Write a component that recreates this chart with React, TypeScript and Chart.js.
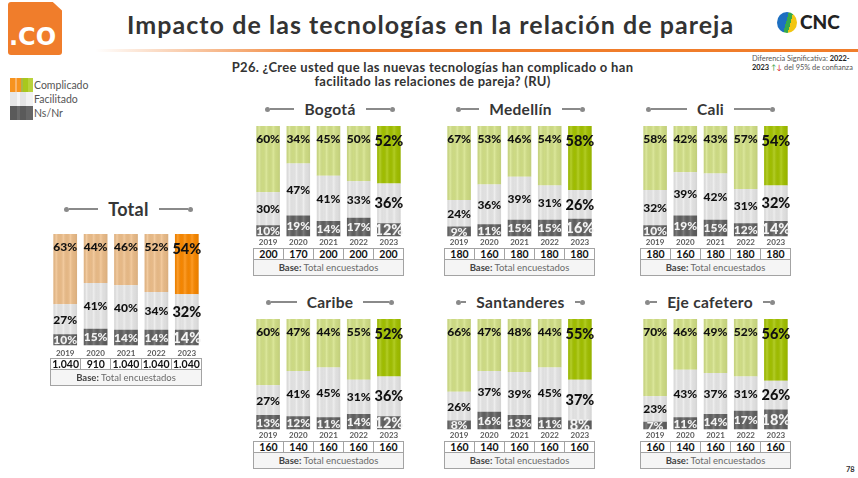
import React, { useEffect, useRef } from "react";
import { Chart, registerables } from "chart.js";

Chart.register(...registerables);

// ---------- DATA ----------
const years = ["2019", "2020", "2021", "2022", "2023"];

const totalComplicado = [63, 44, 46, 52, 54];
const totalFacilitado = [27, 41, 40, 34, 32];
const totalNsNr = [10, 15, 14, 14, 14];
const totalBase = ["1.040", "910", "1.040", "1.040", "1.040"];

const bogotaComplicado = [60, 34, 45, 50, 52];
const bogotaFacilitado = [30, 47, 41, 33, 36];
const bogotaNsNr = [10, 19, 14, 17, 12];
const bogotaBase = ["200", "170", "200", "200", "200"];

const medellinComplicado = [67, 53, 46, 54, 58];
const medellinFacilitado = [24, 36, 39, 31, 26];
const medellinNsNr = [9, 11, 15, 15, 16];
const medellinBase = ["180", "160", "180", "180", "180"];

const caliComplicado = [58, 42, 43, 57, 54];
const caliFacilitado = [32, 39, 42, 31, 32];
const caliNsNr = [10, 19, 15, 12, 14];
const caliBase = ["180", "160", "180", "180", "180"];

const caribeComplicado = [60, 47, 44, 55, 52];
const caribeFacilitado = [27, 41, 45, 31, 36];
const caribeNsNr = [13, 12, 11, 14, 12];
const caribeBase = ["160", "140", "160", "160", "160"];

const santanderesComplicado = [66, 47, 48, 44, 55];
const santanderesFacilitado = [26, 37, 39, 45, 37];
const santanderesNsNr = [8, 16, 13, 11, 8];
const santanderesBase = ["160", "140", "160", "160", "160"];

const ejeComplicado = [70, 46, 49, 52, 56];
const ejeFacilitado = [23, 43, 37, 31, 26];
const ejeNsNr = [7, 11, 14, 17, 18];
const ejeBase = ["160", "140", "160", "160", "160"];

// ---------- STYLE ----------
const ORANGE_LIGHT = "#F1C18C";
const ORANGE_STRONG = "#FF8B00";
const GREEN_LIGHT = "#D6E489";
const GREEN_STRONG = "#A6C500";
const GRAY_LIGHT = "#EBEBEB";
const GRAY_DARK = "#636363";
const FONT = "Lato, 'Noto Sans', sans-serif";

type PanelCfg = {
  title: string;
  comp: number[];
  fac: number[];
  ns: number[];
  base: string[];
  light: string;
  strong: string;
  left: number;
  width: number;
  barTop: number;
  canvasH: number;
  tickPad: number;
  tableTop: number;
  titleY: number;
  titleL: number;
  titleR: number;
  titleSize: number;
};

const TOP_ROW = { barTop: 126, canvasH: 122, tickPad: 1, tableTop: 248, titleY: 109 };
const BOT_ROW = { barTop: 319, canvasH: 122, tickPad: 1, tableTop: 441, titleY: 302 };

const panels: PanelCfg[] = [
  {
    title: "Total", comp: totalComplicado, fac: totalFacilitado, ns: totalNsNr, base: totalBase,
    light: ORANGE_LIGHT, strong: ORANGE_STRONG, left: 50, width: 152, barTop: 234, canvasH: 127,
    tickPad: 3, tableTop: 358, titleY: 209, titleL: 64, titleR: 193, titleSize: 18,
  },
  { title: "Bogotá", comp: bogotaComplicado, fac: bogotaFacilitado, ns: bogotaNsNr, base: bogotaBase,
    light: GREEN_LIGHT, strong: GREEN_STRONG, left: 253, width: 151, ...TOP_ROW, titleL: 265, titleR: 395, titleSize: 15.5 },
  { title: "Medellín", comp: medellinComplicado, fac: medellinFacilitado, ns: medellinNsNr, base: medellinBase,
    light: GREEN_LIGHT, strong: GREEN_STRONG, left: 444, width: 151, ...TOP_ROW, titleL: 456, titleR: 585, titleSize: 15.5 },
  { title: "Cali", comp: caliComplicado, fac: caliFacilitado, ns: caliNsNr, base: caliBase,
    light: GREEN_LIGHT, strong: GREEN_STRONG, left: 640, width: 151, ...TOP_ROW, titleL: 646, titleR: 775, titleSize: 15.5 },
  { title: "Caribe", comp: caribeComplicado, fac: caribeFacilitado, ns: caribeNsNr, base: caribeBase,
    light: GREEN_LIGHT, strong: GREEN_STRONG, left: 253, width: 151, ...BOT_ROW, titleL: 266, titleR: 394, titleSize: 15.5 },
  { title: "Santanderes", comp: santanderesComplicado, fac: santanderesFacilitado, ns: santanderesNsNr, base: santanderesBase,
    light: GREEN_LIGHT, strong: GREEN_STRONG, left: 444, width: 151, ...BOT_ROW, titleL: 456, titleR: 585, titleSize: 15.5 },
  { title: "Eje cafetero", comp: ejeComplicado, fac: ejeFacilitado, ns: ejeNsNr, base: ejeBase,
    light: GREEN_LIGHT, strong: GREEN_STRONG, left: 640, width: 151, ...BOT_ROW, titleL: 645, titleR: 775, titleSize: 15.5 },
];

// ---------- PLUGIN ----------
const stackLabels = {
  id: "stackLabels",
  afterDatasetsDraw(chart: any) {
    const ctx = chart.ctx as CanvasRenderingContext2D;
    const n = chart.data.labels.length;
    const topMeta = chart.getDatasetMeta(2);
    const botMeta = chart.getDatasetMeta(0);
    ctx.save();
    // cylinder-like vertical stripes
    for (let i = 0; i < n; i++) {
      const t = topMeta.data[i].getProps(["x", "y", "width"], true);
      const b = botMeta.data[i].getProps(["base"], true);
      const x0 = t.x - t.width / 2;
      const g = ctx.createLinearGradient(x0, 0, x0 + t.width, 0);
      g.addColorStop(0, "rgba(0,0,0,0.07)");
      g.addColorStop(0.12, "rgba(255,255,255,0.18)");
      g.addColorStop(0.28, "rgba(0,0,0,0.04)");
      g.addColorStop(0.42, "rgba(255,255,255,0.16)");
      g.addColorStop(0.58, "rgba(0,0,0,0.05)");
      g.addColorStop(0.72, "rgba(255,255,255,0.14)");
      g.addColorStop(0.88, "rgba(0,0,0,0.06)");
      g.addColorStop(1, "rgba(0,0,0,0.1)");
      ctx.fillStyle = g;
      ctx.fillRect(x0, t.y, t.width, b.base - t.y);
    }
    // labels
    chart.data.datasets.forEach((ds: any, di: number) => {
      const meta = chart.getDatasetMeta(di);
      meta.data.forEach((el: any, i: number) => {
        const p = el.getProps(["x", "y", "base"], true);
        const big = i === n - 1;
        const size = big ? 14.5 : 12;
        ctx.font = `900 ${size}px ${FONT}`;
        ctx.textAlign = "center";
        ctx.textBaseline = "middle";
        const ty = di === 2 ? p.y + (big ? 15 : 13) : (p.y + p.base) / 2 + 0.5;
        ctx.fillStyle = di === 0 ? "#f3f3f3" : "#111111";
        ctx.fillText(`${ds.data[i]}%`, p.x, ty);
      });
    });
    ctx.restore();
  },
};

// ---------- COMPONENTS ----------
function PanelChart({ p }: { p: PanelCfg }) {
  const ref = useRef<HTMLCanvasElement>(null);
  useEffect(() => {
    if (!ref.current) return;
    const chart = new Chart(ref.current, {
      type: "bar",
      data: {
        labels: years,
        datasets: [
          { label: "Ns/Nr", data: p.ns, backgroundColor: GRAY_DARK },
          { label: "Facilitado", data: p.fac, backgroundColor: GRAY_LIGHT },
          {
            label: "Complicado",
            data: p.comp,
            backgroundColor: years.map((_, i) => (i === years.length - 1 ? p.strong : p.light)),
          },
        ],
      },
      options: {
        animation: false,
        responsive: false,
        maintainAspectRatio: false,
        devicePixelRatio: 1,
        layout: { padding: 0 },
        events: [],
        datasets: { bar: { barPercentage: 0.78, categoryPercentage: 1 } },
        plugins: { legend: { display: false }, tooltip: { enabled: false } },
        scales: {
          x: {
            stacked: true,
            grid: { display: false, drawTicks: false },
            border: { display: false },
            ticks: {
              padding: p.tickPad,
              color: "#5a5a5a",
              font: { family: FONT, size: 8, weight: "bold" },
              maxRotation: 0,
            },
          },
          y: { stacked: true, display: false, min: 0, max: 100 },
        },
      } as any,
      plugins: [stackLabels],
    });
    return () => chart.destroy();
  }, [p]);
  return (
    <canvas
      ref={ref}
      width={p.width}
      height={p.canvasH}
      style={{ position: "absolute", left: p.left, top: p.barTop, width: p.width, height: p.canvasH }}
    />
  );
}

function PanelTitle({ p }: { p: PanelCfg }) {
  const h = 22;
  return (
    <div
      style={{
        position: "absolute", left: p.titleL, top: p.titleY - h / 2, width: p.titleR - p.titleL, height: h,
        display: "flex", alignItems: "center",
      }}
    >
      <div style={{ width: 5, height: 5, borderRadius: 3, background: "#8a8a8a" }} />
      <div style={{ flex: 1, height: 1.5, background: "#8a8a8a" }} />
      <div style={{ margin: "0 10px", fontFamily: FONT, fontWeight: 700, fontSize: p.titleSize, color: "#363636", lineHeight: `${h}px`, whiteSpace: "nowrap", letterSpacing: 0.3 }}>
        {p.title}
      </div>
      <div style={{ flex: 1, height: 1.5, background: "#8a8a8a" }} />
      <div style={{ width: 5, height: 5, borderRadius: 3, background: "#8a8a8a" }} />
    </div>
  );
}

function BaseTable({ p }: { p: PanelCfg }) {
  const bc = "1.5px solid #a3a3a3";
  return (
    <div style={{ position: "absolute", left: p.left, top: p.tableTop, width: p.width, border: bc, boxSizing: "border-box", fontFamily: FONT }}>
      <div style={{ display: "flex", height: 10 }}>
        {p.base.map((b, i) => (
          <div key={i} style={{ flex: 1, borderLeft: i ? bc : "none", textAlign: "center", fontWeight: 700, fontSize: 10.5, lineHeight: "10px", color: "#111" }}>
            {b}
          </div>
        ))}
      </div>
      <div style={{ borderTop: bc, height: 15, background: "#f5f5f5", textAlign: "center", fontSize: 9.5, lineHeight: "15px", color: "#6a6a6a" }}>
        <span style={{ fontWeight: 700, color: "#444" }}>Base:</span> Total encuestados
      </div>
    </div>
  );
}

function Legend() {
  const items = [
    { label: "Complicado", bg: "linear-gradient(to right, #f7931e 0 22%, #f9b46a 22% 30%, #f7931e 30% 48%, #a9b64a 48% 58%, #a8c81c 58% 80%, #b9d23c 80% 100%)" },
    { label: "Facilitado", bg: "linear-gradient(to right, #e6e6e6 0 30%, #f4f4f4 30% 45%, #e4e4e4 45% 70%, #f1f1f1 70% 100%)" },
    { label: "Ns/Nr", bg: "linear-gradient(to right, #5a5a5a 0 30%, #6a6a6a 30% 45%, #5a5a5a 45% 70%, #666 70% 100%)" },
  ];
  return (
    <div style={{ position: "absolute", left: 10, top: 78 }}>
      {items.map((it) => (
        <div key={it.label} style={{ display: "flex", alignItems: "center", height: 14 }}>
          <div style={{ width: 23, height: 14, background: it.bg }} />
          <div style={{ marginLeft: 1, fontFamily: FONT, fontSize: 10.5, color: "#555", lineHeight: "14px" }}>{it.label}</div>
        </div>
      ))}
    </div>
  );
}

export default function App() {
  return (
    <div style={{ position: "absolute", left: 0, top: 0, width: 858, height: 478, overflow: "hidden", background: "#fff", fontFamily: FONT }}>
      {/* logo */}
      <div
        style={{
          position: "absolute", left: 8, top: 2, width: 54, height: 53, background: "#F07D2B", borderRadius: 3,
          clipPath: "polygon(0 0, 83% 0, 100% 16%, 100% 100%, 0 100%)",
        }}
      >
        <div style={{ position: "absolute", left: 1, top: 22, fontFamily: "'DejaVu Sans', sans-serif", fontWeight: 700, fontSize: 24, color: "#fff", lineHeight: "26px" }}>
          .CO
        </div>
      </div>
      {/* title */}
      <div style={{ position: "absolute", left: 127, top: 10, fontFamily: FONT, fontWeight: 700, fontSize: 25, color: "#333", lineHeight: "28px", whiteSpace: "nowrap", letterSpacing: 1.05 }}>
        Impacto de las tecnologías en la relación de pareja
      </div>
      <div style={{ position: "absolute", left: 95, top: 49, width: 763, height: 2.5, background: "linear-gradient(to right, rgba(240,125,43,0), #F07D2B 30%, #F07D2B)" }} />
      {/* CNC logo */}
      <div style={{ position: "absolute", left: 777, top: 12, width: 20, height: 21, borderRadius: "50%", background: "linear-gradient(105deg, #1d6fc1 0 46%, #36a94a 46% 64%, #f2c612 64% 100%)" }} />
      <div style={{ position: "absolute", left: 800, top: 10, fontFamily: FONT, fontWeight: 900, fontSize: 19, color: "#222", lineHeight: "24px" }}>CNC</div>
      {/* subtitle */}
      <div style={{ position: "absolute", left: 222, top: 61, width: 421, textAlign: "center", fontFamily: FONT, fontWeight: 700, fontSize: 13, color: "#333", lineHeight: "13.5px", letterSpacing: 0.3 }}>
        P26. ¿Cree usted que las nuevas tecnologías han complicado o han
        <br />
        facilitado las relaciones de pareja? (RU)
      </div>
      {/* significance note */}
      <div style={{ position: "absolute", left: 752, top: 54, fontFamily: FONT, fontSize: 7.4, color: "#555", lineHeight: "9px", whiteSpace: "nowrap" }}>
        Diferencia Significativa: <b style={{ color: "#222" }}>2022-</b>
        <br />
        <b style={{ color: "#222" }}>2023</b> <span style={{ color: "#2e9c3a" }}>↑</span><span style={{ color: "#d6221e" }}>↓</span> del 95% de confianza
      </div>
      <Legend />
      {panels.map((p) => (
        <React.Fragment key={p.title}>
          <PanelTitle p={p} />
          <PanelChart p={p} />
          <BaseTable p={p} />
        </React.Fragment>
      ))}
      <div style={{ position: "absolute", left: 846, top: 465, fontFamily: FONT, fontWeight: 700, fontSize: 7.5, color: "#333" }}>78</div>
    </div>
  );
}
